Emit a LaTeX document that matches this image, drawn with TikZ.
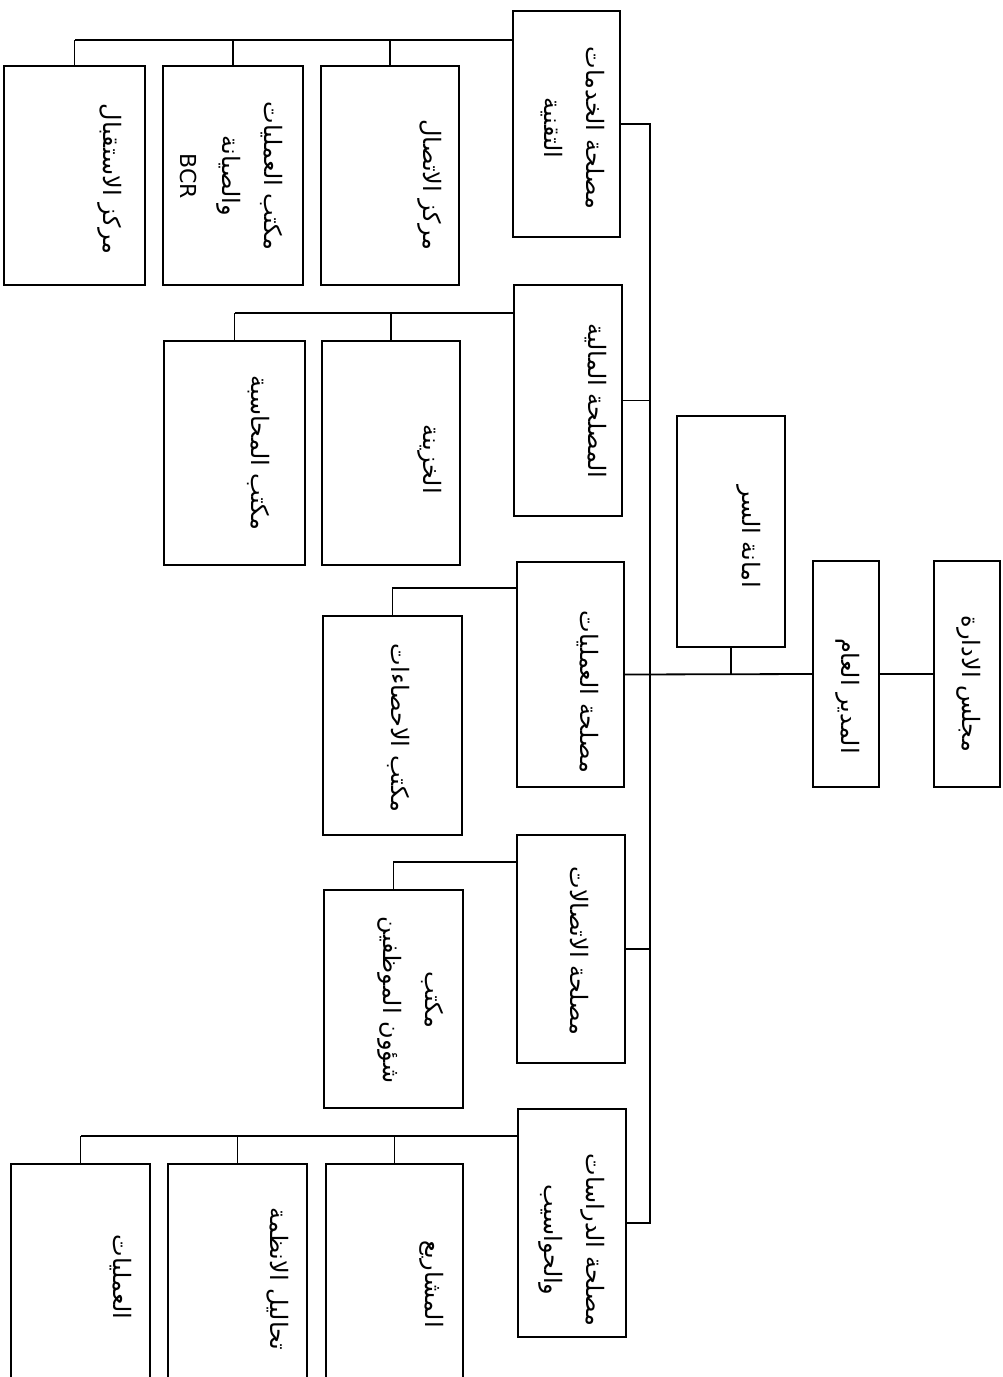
\documentclass[tikz,border=0pt]{standalone}
\usepackage{fontspec}
\newfontfamily\arabicfont[Script=Arabic]{DejaVu Sans}
\TeXXeTstate=1
\newcommand\ar[1]{\beginR #1\endR}
\newcommand\lat[1]{{\fontsize{22}{40}\selectfont #1}}
\begin{document}
\begin{tikzpicture}[x=1pt, y=-1pt,
	box/.style={rectangle, draw=black, line width=2pt, inner sep=0pt},
	lbl/.style={rotate=-90, inner sep=0pt, align=center, font=\arabicfont\fontsize{24}{42}\selectfont},
	link/.style={line width=1.8pt, black},
	]
	
	\clip (0,0) rectangle (1003,1377);
	\fill[white] (0,0) rectangle (1003,1377);
	
	%%=== livello 0: consiglio, direttore, segreteria ===
	\node[box, minimum width=66pt, minimum height=226pt] (majlis) at (967,674) {};
	\node[box, minimum width=66pt, minimum height=226pt] (mudir) at (846,674) {};
	\node[box, minimum width=108pt, minimum height=231pt] (amana) at (731,531.5) {};
	
	%%=== livello 1: le cinque direzioni ===
	\node[box, minimum width=107pt, minimum height=226pt] (khidmat) at (566.5,124) {};
	\node[box, minimum width=108pt, minimum height=231pt] (maliya) at (568,400.5) {};
	\node[box, minimum width=107pt, minimum height=225pt] (amaliyat) at (570.5,674.5) {};
	\node[box, minimum width=108pt, minimum height=228pt] (ittisalat) at (571,949) {};
	\node[box, minimum width=108pt, minimum height=228pt] (dirasat) at (572,1223) {};
	
	%%=== livello 2: uffici ===
	\node[box, minimum width=138pt, minimum height=219pt] (ittisalc) at (390,175.5) {};
	\node[box, minimum width=140pt, minimum height=219pt] (bcr) at (233,175.5) {};
	\node[box, minimum width=141pt, minimum height=219pt] (istiqbal) at (74.5,175.5) {};
	\node[box, minimum width=138pt, minimum height=224pt] (khazina) at (391,453) {};
	\node[box, minimum width=141pt, minimum height=224pt] (muhasaba) at (234.5,453) {};
	\node[box, minimum width=139pt, minimum height=219pt] (ihsaat) at (392.5,725.5) {};
	\node[box, minimum width=139pt, minimum height=218pt] (shuun) at (393.5,999) {};
	\node[box, minimum width=137pt, minimum height=236pt] (mashari) at (394.5,1282) {};
	\node[box, minimum width=139pt, minimum height=236pt] (tahlil) at (237.5,1282) {};
	\node[box, minimum width=139pt, minimum height=236pt] (amaliyatd) at (80.5,1282) {};
	
	%%=== testi ===
	\node[lbl] (tmajlis) at (969,684) {\ar{مجلس الادارة}};
	\node[lbl] (tmudir) at (848,696) {\ar{المدير العام}};
	\node[lbl] (tamana) at (749,537) {\ar{امانة السر}};
	\node[lbl] (tkhidmat) at (573,128) {\ar{مصلحة الخدمات}\\\ar{التقنية}};
	\node[lbl] (tmaliya) at (596,401) {\ar{المصلحة المالية}};
	\node[lbl] (tamaliyat) at (588,692) {\ar{مصلحة العمليات}};
	\node[lbl] (tittisalat) at (579,951) {\ar{مصلحة الاتصالات}};
	\node[lbl] (tdirasat) at (572,1240) {\ar{مصلحة الدراسات}\\\ar{والحواسيب}};
	\node[lbl] (tittisalc) at (430,185) {\ar{مركز الاتصال}};
	\node[lbl] (tbcr) at (231,176) {\ar{مكتب العمليات}\\\ar{والصيانة}\\\lat{BCR}};
	\node[lbl] (tistiqbal) at (110,179) {\ar{مركز الاستقبال}};
	\node[lbl] (tkhazina) at (430,459) {\ar{الخزينة}};
	\node[lbl] (tmuhasaba) at (259,453) {\ar{مكتب المحاسبة}};
	\node[lbl] (tihsaat) at (399,728) {\ar{مكتب الاحصاءات}};
	\node[lbl] (tshuun) at (411,1000) {\ar{مكتب}\\\ar{شؤون الموظفين}};
	\node[lbl] (tmashari) at (432,1284) {\ar{المشاريع}};
	\node[lbl] (ttahlil) at (278,1279) {\ar{تحاليل الانظمة}};
	\node[lbl] (tamaliyatd) at (121,1277) {\ar{العمليات}};
	
	%%=== collegamenti ===
	\coordinate (spine) at (650,0);
	\coordinate (busA) at (0,40);
	\coordinate (busB) at (0,313);
	\coordinate (busC) at (0,588);
	\coordinate (busD) at (0,862);
	\coordinate (busE) at (0,1136);
	
	\draw[link] (majlis.west) -- (mudir.east);
	\draw[link] (mudir.west) -- (amaliyat.east);
	\draw[link] (amana.south) -- (amana.south |- mudir.west);
	% dorsale verticale
	\draw[link] (khidmat.east) -| (spine |- dirasat.east) -- (dirasat.east);
	\draw[link] (maliya.east) -- (maliya.east -| spine);
	\draw[link] (ittisalat.east) -- (ittisalat.east -| spine);
	% barre degli uffici
	\draw[link] (khidmat.west |- busA) -- (istiqbal.north |- busA);
	\foreach \u in {ittisalc, bcr, istiqbal}
		\draw[link] (\u.north |- busA) -- (\u.north);
	\draw[link] (maliya.west |- busB) -- (muhasaba.north |- busB);
	\foreach \u in {khazina, muhasaba}
		\draw[link] (\u.north |- busB) -- (\u.north);
	\draw[link] (amaliyat.west |- busC) -| (ihsaat.north);
	\draw[link] (ittisalat.west |- busD) -| (shuun.north);
	\draw[link] (dirasat.west |- busE) -- (amaliyatd.north |- busE);
	\foreach \u in {mashari, tahlil, amaliyatd}
		\draw[link] (\u.north |- busE) -- (\u.north);
	
\end{tikzpicture}
\end{document}
